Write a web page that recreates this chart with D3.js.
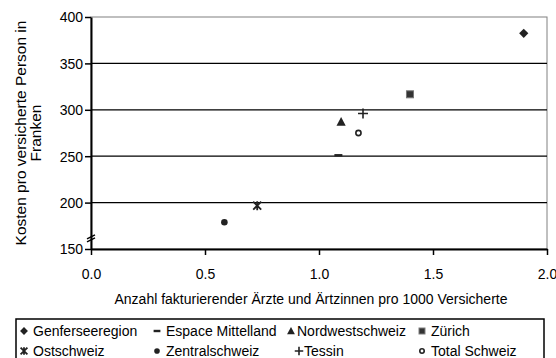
<!DOCTYPE html>
<html lang="de">
<head>
<meta charset="UTF-8">
<title>Kosten vs. Ärztedichte</title>
<script src="https://d3js.org/d3.v7.min.js"></script>
<style>
    body { margin: 0; background: #fff; }
    text { font-family: "Liberation Sans", Arial, sans-serif; fill: #000; }
    .tick text { font-size: 14px; }
</style>
</head>
<body>
<svg width="556" height="358"></svg>
<script>
    // data
    const regions = ["Genferseeregion", "Espace Mittelland", "Nordwestschweiz", "Zürich",
                     "Ostschweiz", "Zentralschweiz", "Tessin", "Total Schweiz"];
    const aerzte = [1.898, 1.085, 1.097, 1.399, 0.729, 0.585, 1.193, 1.173];
    const kosten = [382.4, 251, 287, 316.7, 196.7, 178.8, 296, 275];
    const markers = ["diamond", "dash", "triangle", "square", "star", "dot", "plus", "ring"];
    const xTicks = [0, 0.5, 1.0, 1.5, 2.0];
    const yTicks = [150, 200, 250, 300, 350, 400];

    const svg = d3.select("svg");
    const m = {left: 91, top: 17, right: 9, bottom: 109};
    const w = 556 - m.left - m.right;
    const h = 358 - m.top - m.bottom;

    const x = d3.scaleLinear().domain([0, 2]).range([0, w]);
    const y = d3.scaleLinear().domain([150, 400]).range([h, 0]);

    const g = svg.append("g").attr("transform", `translate(${m.left},${m.top})`);

    // plot area border (grey top + right)
    g.append("rect")
        .attr("x", 0).attr("y", 0).attr("width", w).attr("height", h)
        .attr("fill", "none").attr("stroke", "#808080").attr("stroke-width", 1);

    // gridlines
    g.append("g").selectAll("line")
        .data(yTicks.filter(d => d > 150 && d < 400))
        .enter().append("line")
        .attr("x1", 0).attr("x2", w)
        .attr("y1", d => y(d)).attr("y2", d => y(d))
        .attr("stroke", "#000").attr("stroke-width", 1.2);

    // axes
    const xAxis = g.append("g").attr("transform", `translate(0,${h})`)
        .call(d3.axisBottom(x).tickValues(xTicks).tickFormat(d3.format(".1f")).tickSize(6).tickSizeOuter(0));
    const yAxis = g.append("g")
        .call(d3.axisLeft(y).tickValues(yTicks).tickSize(6).tickSizeOuter(0));
    [xAxis, yAxis].forEach(a => {
        a.select(".domain").attr("stroke", "#000").attr("stroke-width", 2);
        a.selectAll(".tick line").attr("stroke", "#000").attr("stroke-width", 1.5);
    });
    xAxis.selectAll(".tick text").attr("dy", "1.5em");
    yAxis.selectAll(".tick text").attr("x", -8).attr("dy", "0.35em");

    // axis break on the y axis
    const yb = y(163);
    [0, 3].forEach(o => {
        g.append("line")
            .attr("x1", -4).attr("y1", yb + 2 + o)
            .attr("x2", 4).attr("y2", yb - 2 + o)
            .attr("stroke", "#000").attr("stroke-width", 1.3);
    });

    // marker shapes
    function marker(sel, type, s) {
        const c = "#222";
        if (type === "diamond") sel.append("path").attr("d", `M0,${-4.6 * s}L${4.6 * s},0L0,${4.6 * s}L${-4.6 * s},0Z`).attr("fill", c);
        if (type === "triangle") sel.append("path").attr("d", `M0,${-4.8 * s}L${4.6 * s},${3.8 * s}L${-4.6 * s},${3.8 * s}Z`).attr("fill", c);
        if (type === "square") sel.append("rect").attr("x", -3.5 * s).attr("y", -3.5 * s).attr("width", 7 * s).attr("height", 7 * s)
            .attr("fill", "#333").attr("stroke", "#777").attr("stroke-width", 1);
        if (type === "dot") sel.append("circle").attr("r", 3.3 * s).attr("fill", c);
        if (type === "ring") sel.append("circle").attr("r", 2.6 * s).attr("fill", "#fff").attr("stroke", c).attr("stroke-width", 1.6);
        if (type === "dash") sel.append("rect").attr("x", -4 * s).attr("y", -1.2).attr("width", 8 * s).attr("height", 2.4).attr("fill", c);
        if (type === "plus") sel.append("path").attr("d", `M${-5 * s},0H${5 * s}M0,${-5 * s}V${5 * s}`).attr("stroke", c).attr("stroke-width", 1.6);
        if (type === "star") sel.append("path")
            .attr("d", `M${-4 * s},${-4 * s}L${4 * s},${4 * s}M${4 * s},${-4 * s}L${-4 * s},${4 * s}M0,${-4.5 * s}V${4.5 * s}`)
            .attr("stroke", c).attr("stroke-width", 1.8);
    }

    // points
    regions.forEach((r, i) => {
        const p = g.append("g").attr("transform", `translate(${x(aerzte[i])},${y(kosten[i])})`);
        marker(p, markers[i], 1);
    });

    // axis titles
    svg.append("text")
        .attr("x", m.left + w / 2 - 8).attr("y", 304)
        .attr("text-anchor", "middle").attr("font-size", 14)
        .text("Anzahl fakturierender Ärzte und Ärtzinnen pro 1000 Versicherte");
    const yt = svg.append("text")
        .attr("transform", `translate(26,${m.top + h / 2}) rotate(-90)`)
        .attr("text-anchor", "middle").attr("font-size", 15.5);
    yt.append("tspan").attr("x", 0).attr("dy", 0).text("Kosten pro versicherte Person in");
    yt.append("tspan").attr("x", 0).attr("dy", 15).text("Franken");

    // legend
    const legX = [24, 157, 291, 422];
    const legY = [331, 351];
    svg.append("rect")
        .attr("x", 16).attr("y", 319).attr("width", 528).attr("height", 45)
        .attr("fill", "#fff").attr("stroke", "#000").attr("stroke-width", 1.5);
    regions.forEach((r, i) => {
        const col = i % 4, row = Math.floor(i / 4);
        const lg = svg.append("g").attr("transform", `translate(${legX[col]},${legY[row]})`);
        const sym = lg.append("g").attr("transform", `translate(${markers[i] === "plus" ? 8 : 0},0)`);
        marker(sym, markers[i], 0.85);
        lg.append("text")
            .attr("x", markers[i] === "plus" ? 13 : (col === 2 ? 6 : 9)).attr("dy", "0.35em")
            .attr("font-size", 14)
            .text(r);
    });
</script>
</body>
</html>
